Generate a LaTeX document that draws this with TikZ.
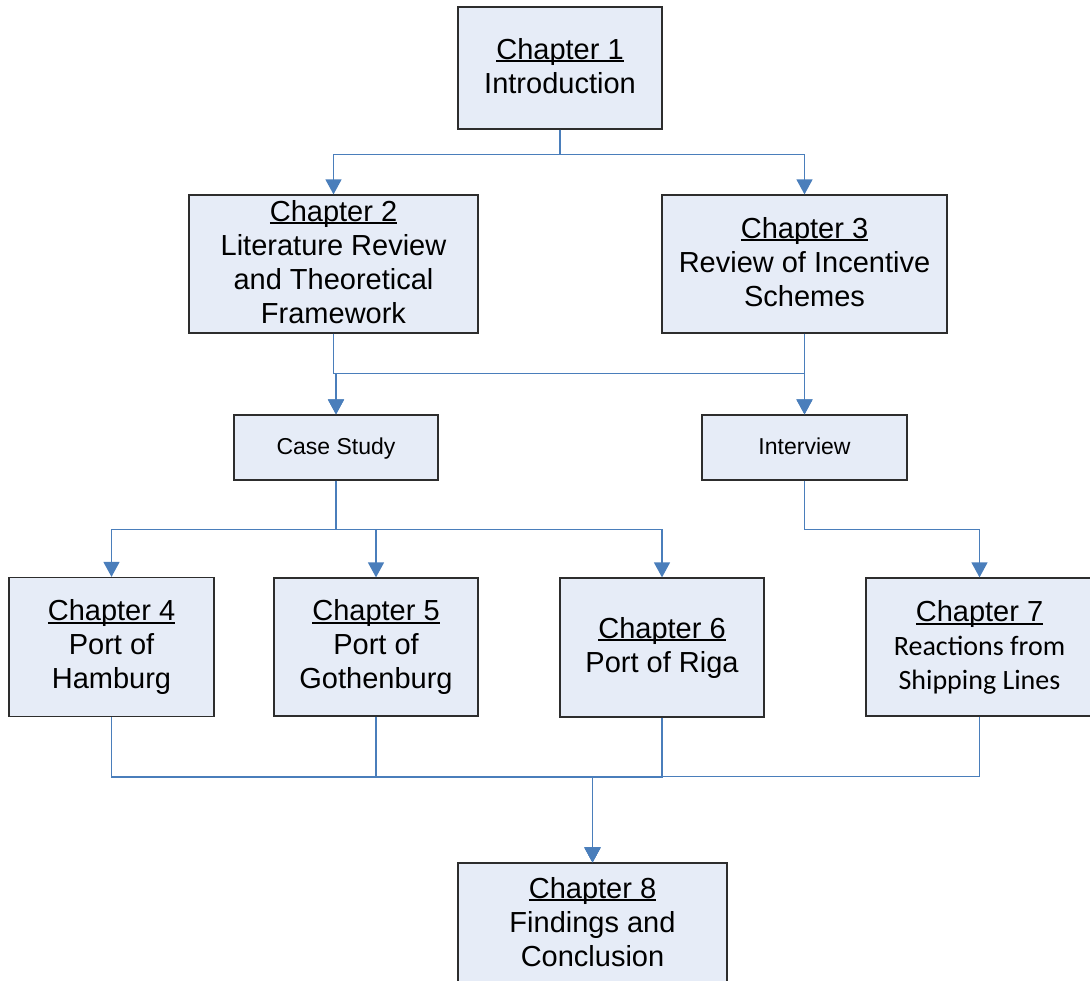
\documentclass[tikz,border=0pt]{standalone}
\usepackage{fontspec}
\setmainfont{Liberation Sans}
\newfontfamily\calib{Carlito}
\usetikzlibrary{arrows.meta}
\definecolor{boxfill}{RGB}{230,236,247}
\definecolor{conncol}{RGB}{74,126,187}
\definecolor{boxdraw}{RGB}{45,45,45}
\newcommand\tstr{\rule[-5pt]{0pt}{27pt}}
\newcommand\sstr{\rule[-4pt]{0pt}{23pt}}
\newcommand\chp[1]{\setbox0\hbox{#1}\rlap{\rule[-3pt]{\wd0}{2pt}}\box0}
\begin{document}
\begin{tikzpicture}[x=1pt,y=-1pt,
  box/.style={draw=boxdraw,line width=1.2pt,fill=boxfill,inner sep=0pt,align=center,
    font=\fontsize{29}{34}\selectfont},
  smallbox/.style={box,font=\fontsize{23}{27}\selectfont},
  conn/.style={draw=conncol,line width=1.4pt,-{Triangle[length=15pt,width=16pt]}},
]
\useasboundingbox (0,0) rectangle (1090,981);

\node[box,minimum width=204,minimum height=122] (ch1) at (560,68)
  {\tstr\chp{Chapter 1}\\Introduction\tstr};
\node[box,minimum width=289,minimum height=138] (ch2) at (333.5,264)
  {\tstr\chp{Chapter 2}\\Literature Review\\and Theoretical\\Framework\tstr};
\node[box,minimum width=285,minimum height=138] (ch3) at (804.5,264)
  {\tstr\chp{Chapter 3}\\Review of Incentive\\Schemes\tstr};
\node[smallbox,minimum width=204,minimum height=65] (case) at (336,447.5)
  {\sstr Case Study};
\node[smallbox,minimum width=205,minimum height=65] (intv) at (804.5,447.5)
  {\sstr Interview};
\node[box,minimum width=205,minimum height=139] (ch4) at (111.5,647)
  {\tstr\chp{Chapter 4}\\Port of\\Hamburg\tstr};
\node[box,minimum width=204,minimum height=138] (ch5) at (376,647)
  {\tstr\chp{Chapter 5}\\Port of\\Gothenburg\tstr};
\node[box,minimum width=204,minimum height=139] (ch6) at (662,647.5)
  {\tstr\chp{Chapter 6}\\Port of Riga\tstr};
\node[box,minimum width=227,minimum height=138] (ch7) at (979.5,647)
  {\tstr\chp{Chapter 7}\\{\calib\fontsize{28}{33}\selectfont Reactions from}\\{\calib\fontsize{28}{33}\selectfont Shipping Lines}\tstr};
\node[box,minimum width=269,minimum height=121] (ch8) at (592.5,923.5)
  {\tstr\chp{Chapter 8}\\Findings and\\Conclusion\tstr};

\draw[conn] (ch1.south) -- ++(0,25) -| (ch2.north);
\draw[conn] (ch1.south) -- ++(0,25) -| (ch3.north);
\draw[conn] (ch2.south) -- ++(0,40) -| (case.north);
\draw[conn] (ch2.south) -- ++(0,40) -| (intv.north);
\draw[conn] (ch3.south) -- ++(0,40) -| (intv.north);
\draw[conn] (ch3.south) -- ++(0,40) -| (case.north);
\draw[conn] (case.south) -- ++(0,49) -| (ch4.north);
\draw[conn] (case.south) -- ++(0,49) -| (ch5.north);
\draw[conn] (case.south) -- ++(0,49) -| (ch6.north);
\draw[conn] (intv.south) -- ++(0,49) -| (ch7.north);
\draw[conn] (ch4.south) -- ++(0,60) -| (ch8.north);
\draw[conn] (ch5.south) -- ++(0,60) -| (ch8.north);
\draw[conn] (ch6.south) -- ++(0,60) -| (ch8.north);
\draw[conn] (ch7.south) -- ++(0,60) -| (ch8.north);
\end{tikzpicture}
\end{document}
